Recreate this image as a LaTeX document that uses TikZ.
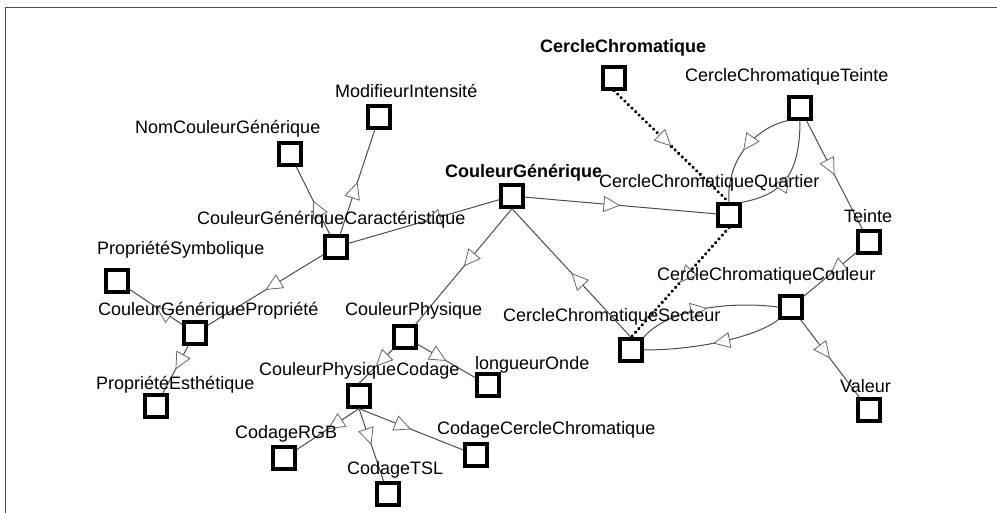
\documentclass[tikz,border=0pt]{standalone}
\usepackage{fontspec}
\setmainfont{Liberation Sans}
\usetikzlibrary{arrows.meta,decorations.markings}
\begin{document}
\begin{tikzpicture}[x=1pt,y=-1pt,
  box/.style={draw=black,line width=3.3pt,fill=white,minimum size=22pt,inner sep=0pt},
  lbl/.style={anchor=base west,inner sep=0pt,font=\fontsize{18}{20}\selectfont},
  blbl/.style={anchor=base west,inner sep=0pt,font=\fontsize{18}{20}\selectfont\bfseries},
  midarrow/.style={decoration={markings,mark=at position 0.5 with {\arrow{Triangle[length=17pt,width=16pt,fill=white,color=gray!80!black,line width=0.8pt]}}},postaction={decorate}},
  edgeline/.style={draw=gray!60!black,line width=1pt,midarrow},
  dotline/.style={draw=black,line width=3.6pt,dash pattern=on 0.01pt off 5pt,line cap=round,midarrow}]
\useasboundingbox (0,0) rectangle (997,513);
\draw[line width=1.5pt,gray!60!black] (5.5,513) -- (5.5,7.5) -- (997,7.5);

% boxes
\node[box] (cc) at (614,78) {};
\node[box] (cct) at (800,108) {};
\node[box] (mi) at (379,117) {};
\node[box] (ncg) at (290,154) {};
\node[box] (cg) at (512,196) {};
\node[box] (ccq) at (729,215) {};
\node[box] (cgc) at (336,247) {};
\node[box] (teinte) at (869,242) {};
\node[box] (ps) at (117,281) {};
\node[box] (ccc) at (791,307) {};
\node[box] (cgp) at (195,333) {};
\node[box] (cp) at (405,337) {};
\node[box] (ccs) at (631,350) {};
\node[box] (cpc) at (359,396) {};
\node[box] (lo) at (488,385) {};
\node[box] (pe) at (156,406) {};
\node[box] (val) at (869,410) {};
\node[box] (codcc) at (476,455) {};
\node[box] (rgb) at (284,458) {};
\node[box] (tsl) at (388,494) {};

% edges
\draw[edgeline] (cg) -- (cgc);
\draw[edgeline] (cgc) -- (ncg);
\draw[edgeline] (cgc) -- (mi);
\draw[edgeline] (cgc) -- (cgp);
\draw[edgeline] (cgp) -- (ps);
\draw[edgeline] (cgp) -- (pe);
\draw[edgeline] (cg.south) -- (cp);
\draw[edgeline] (ccs.north) -- (cg.south);
\draw[edgeline] (cg) -- (ccq);
\draw[dotline] (cc.south) -- (ccq.north);
\draw[dotline] (ccq.south) -- (ccs.north);
\draw[edgeline] (cct.south west) .. controls (755,128) and (726,160) .. (ccq.north);
\draw[edgeline] (ccq.north east) .. controls (780,195) and (800,178) .. (cct.south);
\draw[edgeline] (cct) -- (teinte);
\draw[edgeline] (teinte) -- (ccc);
\draw[edgeline] (ccs.north east) .. controls (665,312) and (720,300) .. (ccc.west);
\draw[edgeline] (ccc.south west) .. controls (758,336) and (700,350) .. (ccs.east);
\draw[edgeline] (ccc) -- (val);
\draw[edgeline] (cp) -- (cpc.north);
\draw[edgeline] (cp) -- (lo);
\draw[edgeline] (cpc.south) -- (rgb);
\draw[edgeline] (cpc.south) -- (tsl);
\draw[edgeline] (cpc.south) -- (codcc);

% labels
\node[blbl] (lcc) at (540,53) {CercleChromatique};
\node[lbl] (lcct) at (685,82) {CercleChromatiqueTeinte};
\node[lbl] (lmi) at (335,98) {ModifieurIntensité};
\node[lbl] (lncg) at (135,134) {NomCouleurGénérique};
\node[blbl] (lcg) at (445,178) {CouleurGénérique};
\node[lbl] (lccq) at (599,188) {CercleChromatiqueQuartier};
\node[lbl] (lcgc) at (197,225) {CouleurGénériqueCaractéristique};
\node[lbl] (lteinte) at (844,223) {Teinte};
\node[lbl] (lps) at (97,255) {PropriétéSymbolique};
\node[lbl] (lccc) at (657,281) {CercleChromatiqueCouleur};
\node[lbl] (lcgp) at (98,316) {CouleurGénériquePropriété};
\node[lbl] (lcp) at (345,316) {CouleurPhysique};
\node[lbl] (lccs) at (503,322) {CercleChromatiqueSecteur};
\node[lbl] (lcpc) at (259,376) {CouleurPhysiqueCodage};
\node[lbl] (llo) at (475,370) {longueurOnde};
\node[lbl] (lpe) at (96,389) {PropriétéEsthétique};
\node[lbl] (lval) at (840,392) {Valeur};
\node[lbl] (lcodcc) at (437,434) {CodageCercleChromatique};
\node[lbl] (lrgb) at (235,438) {CodageRGB};
\node[lbl] (ltsl) at (347,474) {CodageTSL};
\end{tikzpicture}
\end{document}
